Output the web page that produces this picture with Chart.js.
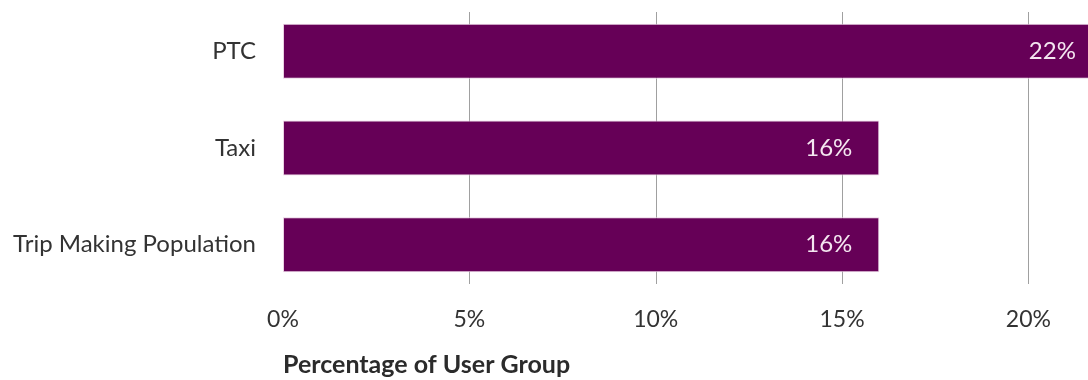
<!DOCTYPE html>
<html lang="en">
<head>
<meta charset="UTF-8">
<title>Percentage of User Group</title>
<script src="https://cdn.jsdelivr.net/npm/chart.js"></script>
<style>
  html, body { margin: 0; padding: 0; background: #fff; }
  #wrap { width: 1088px; height: 380px; position: relative; }
</style>
</head>
<body>
<div id="wrap"><canvas id="chart"></canvas></div>
<script>
const groups = ['PTC', 'Taxi', 'Trip Making Population'];
const shares = [22, 16, 16];
const tickValues = [0, 5, 10, 15, 20];
const axisTitle = 'Percentage of User Group';

const FONT = 'Lato, "Libre Franklin", sans-serif';
const PURPLE = '#660057';

// gridlines that stop short of the plot edges, no line at 0
const gridPlugin = {
  id: 'shortGrid',
  beforeDatasetsDraw(chart) {
    const { ctx, chartArea, scales } = chart;
    ctx.save();
    ctx.strokeStyle = '#a0a0a0';
    ctx.lineWidth = 1;
    tickValues.forEach(v => {
      if (v === 0) return;
      const x = Math.round(scales.x.getPixelForValue(v)) + 0.5;
      ctx.beginPath();
      ctx.moveTo(x, chartArea.top + 9);
      ctx.lineTo(x, chartArea.bottom - 9);
      ctx.stroke();
    });
    ctx.restore();
  }
};

// value labels inside the bar ends
const labelPlugin = {
  id: 'barLabels',
  afterDatasetsDraw(chart) {
    const { ctx } = chart;
    const meta = chart.getDatasetMeta(0);
    ctx.save();
    ctx.font = '24px ' + FONT;
    ctx.fillStyle = '#f4e6f0';
    ctx.textAlign = 'right';
    ctx.textBaseline = 'middle';
    meta.data.forEach((bar, i) => {
      ctx.fillText(shares[i] + '%', bar.x - 27, bar.y);
    });
    ctx.restore();
  }
};

new Chart(document.getElementById('chart'), {
  type: 'bar',
  data: {
    labels: groups,
    datasets: [{
      data: shares,
      backgroundColor: PURPLE,
      borderColor: '#e9cfe2',
      borderWidth: 1,
      borderSkipped: false,
      categoryPercentage: 1,
      barPercentage: 0.569
    }]
  },
  options: {
    indexAxis: 'y',
    responsive: true,
    maintainAspectRatio: false,
    animation: false,
    layout: { padding: { top: 3, right: 0, bottom: 0, left: 0 } },
    plugins: {
      legend: { display: false },
      tooltip: { enabled: false }
    },
    scales: {
      x: {
        min: 0,
        max: 21.6,
        afterBuildTicks: scale => {
          scale.ticks = tickValues.map(v => ({ value: v }));
        },
        afterFit: scale => { scale.height = 87; },
        grid: { display: false, drawTicks: false },
        border: { display: false },
        ticks: {
          padding: 13,
          color: '#333',
          font: { family: FONT, size: 23 },
          callback: v => v + '%'
        },
        title: {
          display: true,
          text: axisTitle,
          align: 'start',
          color: '#2b2b2b',
          padding: 0,
          font: { family: FONT, size: 25, weight: 'bold' }
        }
      },
      y: {
        grid: { display: false, drawTicks: false },
        border: { display: false },
        afterFit: scale => {
          scale.width = 283;
          scale.paddingTop = 0;
          scale.paddingBottom = 0;
        },
        ticks: {
          padding: 27,
          color: '#333',
          font: { family: FONT, size: 24 }
        }
      }
    }
  },
  plugins: [gridPlugin, labelPlugin]
});
</script>
</body>
</html>
